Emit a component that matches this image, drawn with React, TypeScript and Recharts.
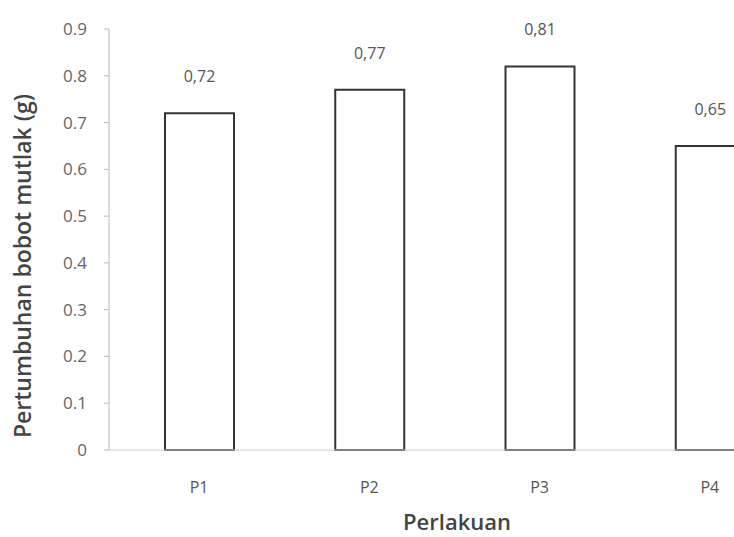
import { BarChart, Bar, XAxis, YAxis, LabelList, Label } from "recharts";

const categories = ["P1", "P2", "P3", "P4"];
const values = [0.72, 0.77, 0.82, 0.65];
const valueLabels = ["0,72", "0,77", "0,81", "0,65"];
const yTicks = [0, 0.1, 0.2, 0.3, 0.4, 0.5, 0.6, 0.7, 0.8, 0.9];

const data = categories.map((name, i) => ({ name, value: values[i], label: valueLabels[i] }));

const FONT = "'Open Sans', 'Noto Sans', sans-serif";

export default function App() {
  return (
    <div style={{ position: "absolute", left: 0, top: 0, width: 734, height: 537, overflow: "hidden", background: "#fff" }}>
      <BarChart width={806} height={537} data={data} margin={{ top: 29, right: 11, bottom: 0, left: 0 }} barSize={69}>
        <XAxis
          dataKey="name"
          height={87}
          padding={{ left: 5, right: 0 }}
          axisLine={{ stroke: "#d0d0d0" }}
          tickLine={false}
          tickSize={0}
          tickMargin={32}
          tick={{ fill: "#555", fontSize: 16, fontFamily: FONT }}
        >
          <Label
            content={() => (
              <text x={457} y={530} textAnchor="middle" fill="#444" fontSize={22} fontWeight={600} fontFamily={FONT}>
                Perlakuan
              </text>
            )}
          />
        </XAxis>
        <YAxis
          width={109}
          domain={[0, 0.9]}
          ticks={yTicks}
          interval={0}
          axisLine={{ stroke: "#bbb" }}
          tickLine={{ stroke: "#bbb" }}
          tickSize={5}
          tickMargin={17}
          tickFormatter={(v: number) => (v === 0 ? "0" : v.toFixed(1))}
          tick={{ fill: "#666", fontSize: 17, fontFamily: FONT }}
        >
          <Label
            content={() => (
              <text
                x={22}
                y={266}
                transform="rotate(-90 22 266)"
                textAnchor="middle"
                dominantBaseline="central"
                fill="#444"
                fontSize={23}
                fontWeight={600}
                fontFamily={FONT}
              >
                Pertumbuhan bobot mutlak (g)
              </text>
            )}
          />
        </YAxis>
        <Bar dataKey="value" fill="#fff" stroke="#333" strokeWidth={2} isAnimationActive={false}>
          <LabelList dataKey="label" position="top" offset={31} fill="#555" fontSize={16} fontFamily={FONT} />
        </Bar>
      </BarChart>
    </div>
  );
}
